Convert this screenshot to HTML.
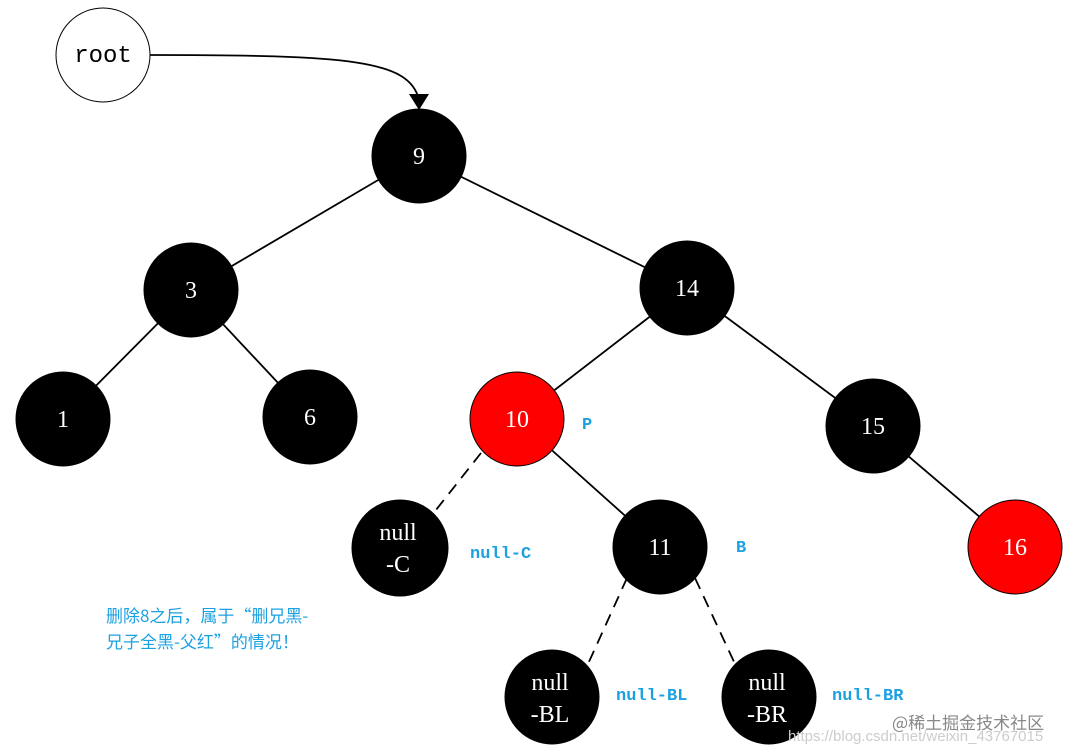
<!DOCTYPE html>
<html><head><meta charset="utf-8"><style>
html,body{margin:0;padding:0;background:#fff}
svg{display:block}
.n{font-family:"Liberation Serif","Noto Serif CJK SC",serif;font-size:24px;fill:#fff;text-anchor:middle}
.l{font-family:"Liberation Mono","Noto Sans CJK SC",monospace;font-size:17px;font-weight:bold;fill:#1ba1e2}
</style></head><body>
<svg width="1071" height="755" viewBox="0 0 1071 755" xmlns="http://www.w3.org/2000/svg">
<g stroke="#000" stroke-width="1.8" fill="none">
<path d="M150 55 C 350 55, 410 60, 419 100"/>
<line x1="419" y1="156" x2="191" y2="290"/>
<line x1="419" y1="156" x2="687" y2="288"/>
<line x1="191" y1="290" x2="63" y2="419"/>
<line x1="191" y1="290" x2="310" y2="417"/>
<line x1="687" y1="288" x2="517" y2="419"/>
<line x1="687" y1="288" x2="873" y2="426"/>
<line x1="517" y1="419" x2="660" y2="547"/>
<line x1="873" y1="426" x2="1015" y2="547"/>
<g stroke-dasharray="12,8">
<line x1="481" y1="453" x2="432" y2="515"/>
<line x1="627" y1="578" x2="588" y2="664"/>
<line x1="695" y1="578" x2="735" y2="664"/>
</g>
</g>
<polygon points="409,94 429,94 419,110" fill="#000"/>
<circle cx="103" cy="55" r="47" fill="#fff" stroke="#000"/>
<text x="103" y="62" style="font-family:'Liberation Mono',monospace;font-size:24px;text-anchor:middle">root</text>
<g stroke="#000" stroke-width="1">
<circle cx="419" cy="156" r="47"/>
<circle cx="191" cy="290" r="47"/>
<circle cx="687" cy="288" r="47"/>
<circle cx="63" cy="419" r="47"/>
<circle cx="310" cy="417" r="47"/>
<circle cx="517" cy="419" r="47" fill="#ff0000"/>
<circle cx="873" cy="426" r="47"/>
<circle cx="400" cy="548" r="48"/>
<circle cx="660" cy="547" r="47"/>
<circle cx="1015" cy="547" r="47" fill="#ff0000"/>
<circle cx="552" cy="697" r="47"/>
<circle cx="769" cy="697" r="47"/>
</g>
<text class="n" x="419" y="164">9</text>
<text class="n" x="191" y="298">3</text>
<text class="n" x="687" y="296">14</text>
<text class="n" x="63" y="427">1</text>
<text class="n" x="310" y="425">6</text>
<text class="n" x="517" y="427">10</text>
<text class="n" x="873" y="434">15</text>
<text class="n" x="660" y="555">11</text>
<text class="n" x="1015" y="555">16</text>
<text class="n" x="398" y="540">null</text><text class="n" x="398" y="572">-C</text>
<text class="n" x="550" y="690">null</text><text class="n" x="550" y="722">-BL</text>
<text class="n" x="767" y="690">null</text><text class="n" x="767" y="722">-BR</text>
<text class="l" x="582" y="429">P</text>
<text class="l" x="736" y="552">B</text>
<text class="l" x="470" y="558">null-C</text>
<text class="l" x="616" y="700">null-BL</text>
<text class="l" x="832" y="700">null-BR</text>
<text class="l" x="106" y="622" style="font-family:'Noto Sans CJK SC',sans-serif;font-weight:normal">删除8之后，属于“删兄黑-</text>
<text class="l" x="106" y="648" style="font-family:'Noto Sans CJK SC',sans-serif;font-weight:normal">兄子全黑-父红”的情况！</text>
<text x="892" y="729" style="font-family:'Noto Sans CJK SC',sans-serif;font-size:17px;fill:#888">@稀土掘金技术社区</text>
<text x="788" y="741" style="font-family:'Liberation Sans',sans-serif;font-size:15px;fill:#ccc">https://blog.csdn.net/weixin_43767015</text>
</svg>
</body></html>
